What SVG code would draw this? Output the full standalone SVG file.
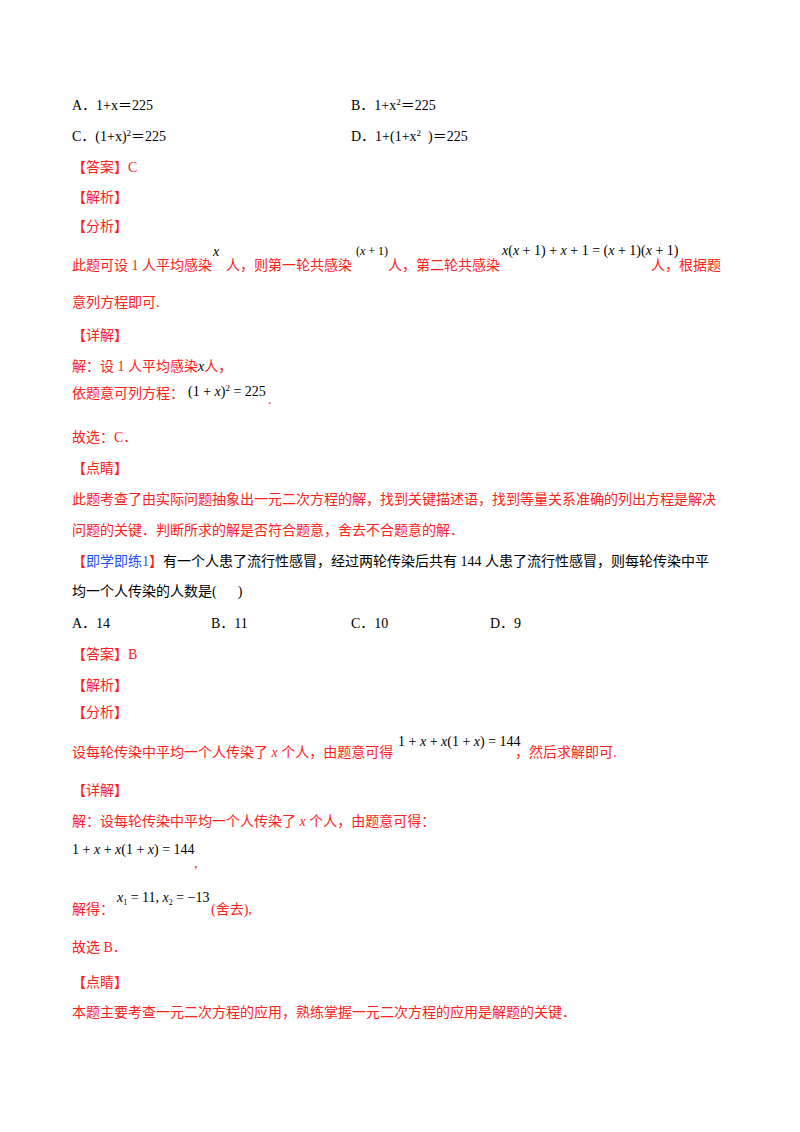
<svg xmlns="http://www.w3.org/2000/svg" width="800" height="1132" viewBox="0 0 800 1132">
<style>
text{font-family:"Liberation Serif","Noto Sans CJK SC",serif;font-size:14px;fill:#000;white-space:pre}
.r{fill:#ff2020}
.b{fill:#1e50ff}
.m{font-family:"Liberation Serif",serif;font-style:italic}
.s{font-size:12px}
</style>
<rect width="800" height="1132" fill="#fff"/>
<text x="72" y="110">A．1+x＝225</text>
<text x="351" y="110">B．1+x<tspan dy="-5" font-size="9">2</tspan><tspan dy="5">＝225</tspan></text>
<text x="72" y="141">C．(1+x)<tspan dy="-5" font-size="9">2</tspan><tspan dy="5">＝225</tspan></text>
<text x="351" y="141">D．1+(1+x<tspan dy="-5" font-size="9">2</tspan><tspan dy="5">  )＝225</tspan></text>
<text x="72" y="172" class="r">【答案】C</text>
<text x="72" y="202" class="r">【解析】</text>
<text x="72" y="231" class="r">【分析】</text>
<text x="72" y="270" class="r">此题可设 1 人平均感染</text>
<text x="213" y="256" class="m">x</text>
<text x="226" y="270" class="r">人，则第一轮共感染</text>
<text x="356" y="255" class="s">(<tspan class="m">x</tspan> + 1)</text>
<text x="388" y="270" class="r">人，第二轮共感染</text>
<text x="502" y="255" font-size="11"><tspan class="m">x</tspan>(<tspan class="m">x</tspan> + 1) + <tspan class="m">x</tspan> + 1 = (<tspan class="m">x</tspan> + 1)(<tspan class="m">x</tspan> + 1)</text>
<text x="651" y="270" class="r">人，根据题</text>
<text x="72" y="307" class="r">意列方程即可.</text>
<text x="72" y="340" class="r">【详解】</text>
<text x="72" y="371" class="r">解：设 1 人平均感染<tspan class="m" fill="#000">x</tspan>人，</text>
<text x="72" y="398" class="r">依题意可列方程：</text>
<text x="188" y="396" font-size="13">(1 + <tspan class="m">x</tspan>)<tspan dy="-5" font-size="9">2</tspan><tspan dy="5"> = 225</tspan></text>
<text x="268" y="404" class="r">.</text>
<text x="72" y="442" class="r">故选：C．</text>
<text x="72" y="473" class="r">【点睛】</text>
<text x="72" y="504" class="r">此题考查了由实际问题抽象出一元二次方程的解，找到关键描述语，找到等量关系准确的列出方程是解决</text>
<text x="72" y="535" class="r">问题的关键．判断所求的解是否符合题意，舍去不合题意的解．</text>
<text x="72" y="566"><tspan class="r">【</tspan><tspan class="b">即学即练1</tspan><tspan class="r">】</tspan>有一个人患了流行性感冒，经过两轮传染后共有 144 人患了流行性感冒，则每轮传染中平</text>
<text x="72" y="596">均一个人传染的人数是(      )</text>
<text x="72" y="628">A．14</text>
<text x="211" y="628">B．11</text>
<text x="351" y="628">C．10</text>
<text x="490" y="628">D．9</text>
<text x="72" y="659" class="r">【答案】B</text>
<text x="72" y="690" class="r">【解析】</text>
<text x="72" y="717" class="r">【分析】</text>
<text x="72" y="757" class="r">设每轮传染中平均一个人传染了 <tspan class="m">x</tspan> 个人，由题意可得</text>
<text x="398" y="746">1 + <tspan class="m">x</tspan> + <tspan class="m">x</tspan>(1 + <tspan class="m">x</tspan>) = 144</text>
<text x="515" y="757" class="r">，然后求解即可.</text>
<text x="72" y="795" class="r">【详解】</text>
<text x="72" y="826" class="r">解：设每轮传染中平均一个人传染了 <tspan class="m">x</tspan> 个人，由题意可得：</text>
<text x="72" y="854">1 + <tspan class="m">x</tspan> + <tspan class="m">x</tspan>(1 + <tspan class="m">x</tspan>) = 144</text>
<text x="194" y="868" class="r">,</text>
<text x="72" y="914" class="r">解得：</text>
<text x="117" y="902" font-size="13.5"><tspan class="m">x</tspan><tspan dy="3" font-size="8">1</tspan><tspan dy="-3"> = 11, </tspan><tspan class="m">x</tspan><tspan dy="3" font-size="8">2</tspan><tspan dy="-3"> = −13</tspan></text>
<text x="211" y="914" class="r">(舍去),</text>
<text x="72" y="952" class="r">故选 B．</text>
<text x="72" y="987" class="r">【点睛】</text>
<text x="72" y="1017" class="r">本题主要考查一元二次方程的应用，熟练掌握一元二次方程的应用是解题的关键．</text>
</svg>
